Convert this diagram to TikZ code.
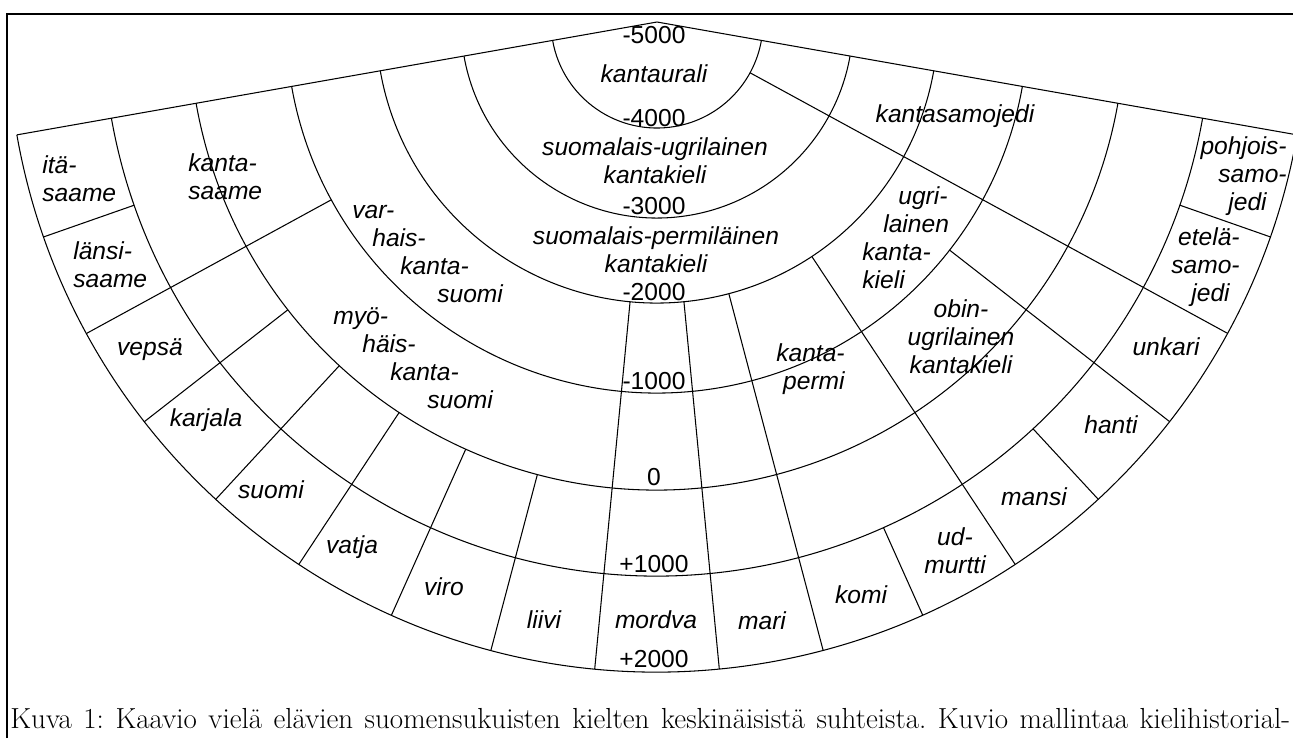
\documentclass[tikz,border=0pt]{standalone}
\usepackage{fontspec}
\newfontfamily\labelfont{Liberation Sans}

\tikzstyle{langlabel} = [font=\labelfont\itshape\fontsize{14}{16}\selectfont, inner sep=0pt, align=center]
\tikzstyle{yearlabel} = [font=\labelfont\fontsize{14}{16}\selectfont, inner sep=0pt, anchor=base]
\tikzstyle{fanline} = [line width=0.6pt]

\begin{document}
\begin{tikzpicture}[x=0.02cm, y=0.02cm]
\useasboundingbox (0,0) rectangle (1293,-738);

% frame
\draw[line width=1.1pt] (7,-738) -- (7,-14) -- (1293,-14);

\begin{scope}[shift={(657,-22)}, fanline]
\foreach \r in {106,196,281,371,468,554,650}
  \draw (190:\r) arc (190:350:\r);
\draw (190:650) -- (0,0) -- (350:650);
% branch borders: angle/inner radius
\foreach \a/\r in {199.31/554, 208.63/371, 217.94/468, 227.25/468, 236.56/468,
    245.88/468, 255.19/468, 264.5/281, 275.5/281, 284.81/281, 294.13/554,
    303.44/281, 312.75/554, 322.06/371, 331.38/106, 340.69/554}
  \draw (\a:\r) -- (\a:650);
\end{scope}

% years
\node[yearlabel] (y5000) at (654,-43) {-5000};
\node[yearlabel] (y4000) at (654,-126) {-4000};
\node[yearlabel] (y3000) at (654,-214) {-3000};
\node[yearlabel] (y2000) at (654,-300) {-2000};
\node[yearlabel] (y1000) at (654,-389) {-1000};
\node[yearlabel] (y0) at (654,-485) {0};
\node[yearlabel] (p1000) at (654,-572) {+1000};
\node[yearlabel] (p2000) at (654,-667) {+2000};

% proto languages
\node[langlabel] (kantaurali) at (654,-74) {kantaurali};
\node[langlabel] (suomugr) at (655,-161) {suomalais-ugrilainen\\kantakieli};
\node[langlabel] (suomperm) at (656,-250) {suomalais-permiläinen\\kantakieli};
\node[langlabel] (kantasamojedi) at (955,-116) {kantasamojedi};
\node[langlabel, align=left, anchor=west] (kantasaame) at (188,-177) {kanta-\\saame};
\node[langlabel, align=left, anchor=west] (varhais) at (352,-254)
  {var-\\\hspace*{0.4cm}hais-\\\hspace*{0.96cm}kanta-\\\hspace*{1.7cm}suomi};
\node[langlabel, align=left, anchor=west] (myohais) at (333,-358)
  {myö-\\\hspace*{0.58cm}häis-\\\hspace*{1.14cm}kanta-\\\hspace*{1.88cm}suomi};
\node[langlabel, align=left, anchor=west] (ugrilainen) at (862,-238)
  {\hspace*{0.72cm}ugri-\\\hspace*{0.42cm}lainen\\kanta-\\kieli};
\node[langlabel] (obinugr) at (961,-337) {obin-\\ugrilainen\\kantakieli};
\node[langlabel, align=right, anchor=east] (kantapermi) at (845,-369) {kanta-\\permi};

% languages
\node[langlabel, align=left, anchor=west] (itasaame) at (42,-179) {itä-\\saame};
\node[langlabel, align=left, anchor=west] (lansisaame) at (73,-265) {länsi-\\saame};
\node[langlabel] (vepsa) at (150,-350) {vepsä};
\node[langlabel] (karjala) at (206,-420) {karjala};
\node[langlabel] (suomi) at (271,-490) {suomi};
\node[langlabel] (vatja) at (352,-547) {vatja};
\node[langlabel] (viro) at (444,-587) {viro};
\node[langlabel] (liivi) at (544,-620) {liivi};
\node[langlabel] (mordva) at (656,-620) {mordva};
\node[langlabel] (mari) at (762,-621) {mari};
\node[langlabel] (komi) at (861,-595) {komi};
\node[langlabel] (udmurtti) at (955,-551) {ud-\\murtti};
\node[langlabel] (mansi) at (1034,-497) {mansi};
\node[langlabel] (hanti) at (1111,-425) {hanti};
\node[langlabel] (unkari) at (1166,-347) {unkari};
\node[langlabel, align=right, anchor=east] (etela) at (1240,-267)
  {etelä-\\samo-\\jedi\hspace*{0.2cm}};
\node[langlabel, align=right, anchor=east] (pohjois) at (1287,-176)
  {pohjois-\\samo-\hspace*{0.2cm}\\jedi\hspace*{0.4cm}};

\node[anchor=base west, inner sep=0pt, font=\fontsize{16.5}{19}\selectfont] (caption) at (10,-728)
  {\frenchspacing\makebox[25.6cm][s]{Kuva 1: Kaavio vielä elävien suomensukuisten kielten keskinäisistä suhteista. Kuvio mallintaa kielihistorial-}};
\end{tikzpicture}
\end{document}
